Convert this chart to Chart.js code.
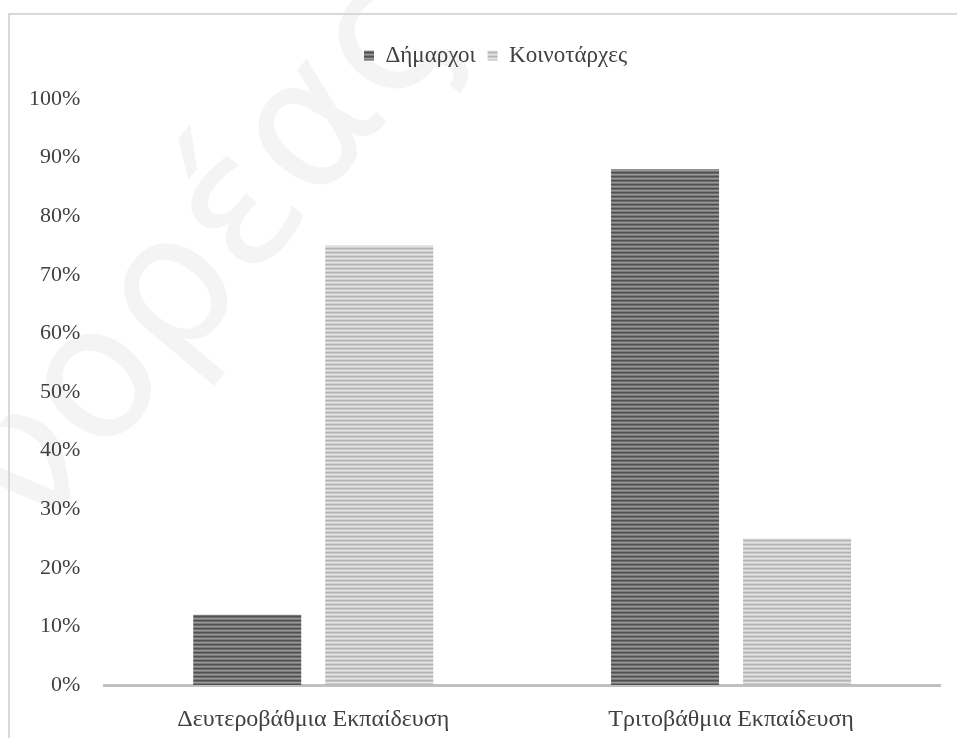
<!DOCTYPE html>
<html>
<head>
<meta charset="utf-8">
<script src="https://cdn.jsdelivr.net/npm/chart.js@4/dist/chart.umd.min.js"></script>
<style>
  html, body { margin: 0; padding: 0; background: #fff; }
  #wrap { width: 957px; height: 738px; position: relative; }
</style>
</head>
<body>
<div id="wrap"><canvas id="chart"></canvas></div>
<script>
// data
const categories = ["Δευτεροβάθμια Εκπαίδευση", "Τριτοβάθμια Εκπαίδευση"];
const seriesNames = ["Δήμαρχοι", "Κοινοτάρχες"];
const mayors = [12, 88];
const communityHeads = [75, 25];
const yTicks = [0, 10, 20, 30, 40, 50, 60, 70, 80, 90, 100];

const serif = "'Liberation Serif', 'DejaVu Serif', serif";

// horizontal stripes like the original fill
function stripes(colors) {
    const c = document.createElement('canvas');
    c.width = 4;
    c.height = colors.length;
    const g = c.getContext('2d');
    colors.forEach((col, i) => {
        g.fillStyle = col;
        g.fillRect(0, i, 4, 1);
    });
    return g.createPattern(c, 'repeat');
}

const darkFill = stripes(['#505050', '#6a6a6a', '#9a9a9a', '#7a7a7a']);
const lightFill = stripes(['#b4b4b4', '#c8c8c8', '#e4e4e4', '#d0d0d0']);

const framePlugin = {
    id: 'frame',
    beforeDraw(chart) {
        const ctx = chart.ctx;
        // faint watermark behind the chart
        ctx.save();
        ctx.fillStyle = '#f4f4f4';
        ctx.translate(425, 0);
        ctx.rotate(-50 * Math.PI / 180);
        ctx.font = "185px 'DejaVu Sans'";
        ctx.textAlign = 'right';
        ctx.textBaseline = 'middle';
        ctx.fillText('νορέας', 0, 0);
        ctx.restore();

        ctx.save();
        ctx.strokeStyle = '#d9d9d9';
        ctx.lineWidth = 2;
        ctx.beginPath();
        ctx.moveTo(9, 738);
        ctx.lineTo(9, 14);
        ctx.lineTo(957, 14);
        ctx.stroke();
        ctx.restore();
    }
};

// extra room under the legend, and nudge it right like the original
const legendSpace = {
    id: 'legendSpace',
    beforeInit(chart) {
        const fit = chart.legend.fit;
        chart.legend.fit = function () {
            fit.bind(chart.legend)();
            this.height += 22;
        };
    },
    afterLayout(chart) {
        chart.legend.left += 23;
        chart.legend.right += 23;
    }
};

new Chart(document.getElementById('chart'), {
    type: 'bar',
    data: {
        labels: categories,
        datasets: [
            {
                label: seriesNames[0],
                data: mayors,
                backgroundColor: darkFill,
                borderWidth: 0,
            },
            {
                label: seriesNames[1],
                data: communityHeads,
                backgroundColor: lightFill,
                borderWidth: 0,
            },
        ],
    },
    options: {
        responsive: true,
        maintainAspectRatio: false,
        animation: false,
        layout: {
            padding: { top: 32, left: 5, right: 17, bottom: 2 },
        },
        datasets: {
            bar: {
                categoryPercentage: 0.632,
                barPercentage: 0.818,
            },
        },
        plugins: {
            legend: {
                position: 'top',
                labels: {
                    boxWidth: 10,
                    boxHeight: 10,
                    color: '#404040',
                    padding: 12,
                    font: { family: serif, size: 23 },
                },
            },
            tooltip: { enabled: false },
        },
        scales: {
            x: {
                grid: { display: false, drawTicks: false },
                border: { display: true, color: '#c0c0c0', width: 3 },
                ticks: {
                    color: '#404040',
                    padding: 23,
                    font: { family: serif, size: 24, lineHeight: 1 },
                },
                afterFit(scale) {
                    scale.height = 51;
                },
            },
            y: {
                min: 0,
                max: 100,
                afterBuildTicks(scale) {
                    scale.ticks = yTicks.map(v => ({ value: v }));
                },
                grid: { display: false, drawTicks: false },
                border: { display: false },
                ticks: {
                    color: '#404040',
                    padding: 24,
                    font: { family: serif, size: 22 },
                    callback: v => v + '%',
                },
            },
        },
    },
    plugins: [framePlugin, legendSpace],
});
</script>
</body>
</html>
